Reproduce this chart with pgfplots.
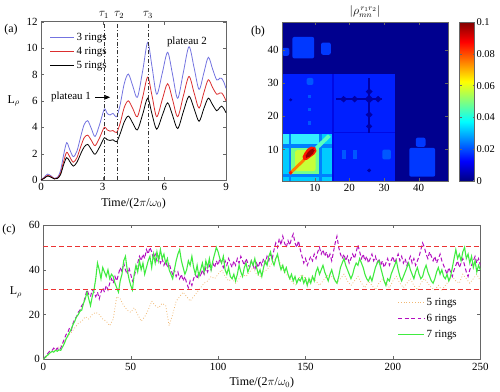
\documentclass[border=0pt]{standalone}
\usepackage{fontspec}
\setmainfont{Liberation Serif}
\usepackage{pgfplots}
\pgfplotsset{compat=1.18}
\usetikzlibrary{arrows.meta}

\definecolor{cA}{rgb}{0.45,0.45,0.88}
\definecolor{cB}{rgb}{0.86,0.18,0.18}
\definecolor{cOr}{rgb}{0.94,0.72,0.45}
\definecolor{cPu}{rgb}{0.70,0.05,0.75}
\definecolor{cGr}{rgb}{0.25,0.92,0.25}
\definecolor{cRl}{rgb}{0.92,0.2,0.2}
% heat map colours (jet)
\definecolor{hNavy}{rgb}{0,0,0.56}
\definecolor{hB0}{rgb}{0,0.04,0.9}
\definecolor{hB1}{rgb}{0,0.12,1}
\definecolor{hB2}{rgb}{0,0.22,1}
\definecolor{hB3}{rgb}{0,0.34,1}
\definecolor{hDk}{rgb}{0,0,0.65}
\definecolor{hSep}{rgb}{0,0.5,1}
\definecolor{hCy}{rgb}{0,0.8,1}
\definecolor{hCyL}{rgb}{0.2,0.93,1}
\definecolor{hGr}{rgb}{0.45,1,0.55}
\definecolor{hYe}{rgb}{0.78,1,0.22}
\definecolor{hOr}{rgb}{1,0.5,0}
\definecolor{hRd}{rgb}{1,0.1,0}
\definecolor{hDr}{rgb}{0.6,0,0}
\definecolor{hDc}{rgb}{0.35,1,0.75}

\newcommand{\tickfont}{\fontsize{11}{13}\selectfont}
\newcommand{\labfont}{\fontsize{12}{14}\selectfont}
\newcommand{\legfont}{\fontsize{11}{13}\selectfont}

\newcommand{\hrect}[5]{\addplot[draw=none,fill=#5,forget plot] coordinates {(#1,#3) (#2,#3) (#2,#4) (#1,#4)} --cycle;}
\newcommand{\hblob}[5]{\addplot[draw=none,fill=#5,rounded corners=2bp,forget plot] coordinates {(#1,#3) (#2,#3) (#2,#4) (#1,#4)} --cycle;}
\newcommand{\hdia}[4]{\addplot[draw=none,fill=#4,forget plot] coordinates {({#1-#3},#2) (#1,{#2+#3}) ({#1+#3},#2) (#1,{#2-#3})} --cycle;}

\pgfplotsset{
  mystyle/.style={
    scale only axis, anchor=south west,
    axis line style={black!60},
    tick style={black!60},
    major tick length=3bp,
    tick align=inside,
    tick label style={font=\tickfont},
    label style={font=\labfont},
    /pgf/number format/assume math mode=true,
  },
}

\begin{document}
\begin{tikzpicture}
\useasboundingbox (0,0) rectangle (500bp,392bp);

% ---------------- (a)
\begin{axis}[mystyle,
  at={(41bp,212bp)}, width=185bp, height=158.3bp,
  xmin=0, xmax=9, ymin=0, ymax=12,
  xtick={0,3,6,9}, ytick={0,2,...,12},
  clip=false,
  xlabel={Time/(2$\pi$/$\omega_0$)},
  ylabel={L$_\rho$}, ylabel style={rotate=-90},
  legend style={draw=none, fill=none, at={(0.03,0.955)}, anchor=north west, font=\legfont, row sep=1.5bp},
  legend cell align=left,
  legend image code/.code={\draw[#1] (0bp,0bp) -- (24bp,0bp);},
]
\addplot[cA, line width=0.8pt, smooth, tension=0.5] coordinates {
(0,0) (0.15,0.2) (0.32,0.45) (0.5,0.3) (0.65,0.12) (0.8,0.2) (0.95,0.7) (1.1,1.9) (1.25,2.83) (1.4,2.3) (1.57,1.77) (1.75,2.2) (1.95,3.4) (2.1,4.2) (2.27,4.5) (2.45,3.9) (2.63,3.3) (2.85,4.2) (3.08,5.38) (3.22,5.05) (3.36,4.93) (3.5,5.05) (3.68,4.8) (3.85,5.7) (4.05,7.3) (4.25,8.03) (4.47,7.1) (4.69,6.27) (4.95,8.3) (5.19,10.43) (5.4,8.6) (5.63,6.5) (5.9,8.1) (6.16,9.68) (6.4,8.0) (6.65,6.19) (6.93,8.2) (7.2,10.1) (7.45,8.5) (7.69,6.87) (7.92,8.1) (8.14,9.3) (8.35,8.4) (8.55,7.58) (8.7,7.72) (8.79,7.7) (8.9,7.4) (9,6.95)};
\addlegendentry{3 rings}
\addplot[cB, line width=0.8pt, smooth, tension=0.5] coordinates {
(0,0) (0.15,0.15) (0.32,0.35) (0.5,0.25) (0.65,0.1) (0.8,0.15) (0.95,0.5) (1.1,1.4) (1.25,2.1) (1.4,1.75) (1.57,1.35) (1.75,1.7) (1.95,2.6) (2.1,3.2) (2.27,3.4) (2.45,3.0) (2.63,2.6) (2.85,3.2) (3.08,4.0) (3.22,3.8) (3.36,3.7) (3.5,3.75) (3.68,3.6) (3.85,4.3) (4.05,5.5) (4.25,6.0) (4.47,5.4) (4.69,4.8) (4.95,6.3) (5.19,7.8) (5.4,6.4) (5.63,4.8) (5.9,6.1) (6.16,7.3) (6.4,6.1) (6.65,4.8) (6.93,6.4) (7.2,7.85) (7.45,6.6) (7.69,5.45) (7.92,6.6) (8.14,7.6) (8.35,7.0) (8.55,6.5) (8.7,6.6) (8.79,6.6) (8.9,6.35) (9,6.0)};
\addlegendentry{4 rings}
\addplot[black, line width=0.8pt, smooth, tension=0.5] coordinates {
(0,0) (0.15,0.12) (0.32,0.3) (0.5,0.2) (0.65,0.08) (0.8,0.12) (0.95,0.4) (1.1,1.15) (1.25,1.7) (1.4,1.4) (1.57,1.05) (1.75,1.35) (1.95,2.05) (2.1,2.5) (2.27,2.7) (2.45,2.3) (2.63,1.95) (2.85,2.5) (3.08,3.2) (3.22,3.05) (3.36,3.0) (3.5,3.05) (3.68,2.9) (3.85,3.5) (4.05,4.4) (4.25,4.85) (4.47,4.3) (4.69,3.8) (4.95,5.0) (5.19,6.2) (5.4,5.0) (5.63,3.85) (5.9,4.9) (6.16,5.85) (6.4,4.9) (6.65,3.9) (6.93,5.2) (7.2,6.35) (7.45,5.4) (7.69,4.45) (7.92,5.4) (8.14,6.2) (8.35,5.7) (8.55,5.25) (8.7,5.5) (8.79,5.6) (8.9,5.4) (9,5.1)};
\addlegendentry{5 rings}
\addplot[black!80, line width=0.7pt, dash pattern=on 4pt off 2pt on 1pt off 2pt, forget plot] coordinates {(3.06,0) (3.06,12)};
\addplot[black!80, line width=0.7pt, dash pattern=on 4pt off 2pt on 1pt off 2pt, forget plot] coordinates {(3.73,0) (3.73,12)};
\addplot[black!80, line width=0.7pt, dash pattern=on 4pt off 2pt on 1pt off 2pt, forget plot] coordinates {(5.2,0) (5.2,12)};
\addplot[black, line width=0.6pt, -{Stealth[length=6bp,width=5bp]}, forget plot] coordinates {(2.63,6.27) (3.36,6.27)};
\node[anchor=east, font=\legfont] at (axis cs:2.6,6.3) {plateau 1};
\node[font=\legfont] at (axis cs:7.1,10.48) {plateau 2};
\node[anchor=south, font=\labfont, inner sep=1bp] at (axis cs:3.06,12.15) {$\tau_1$};
\node[anchor=south, font=\labfont, inner sep=1bp] at (axis cs:3.8,12.15) {$\tau_2$};
\node[anchor=south, font=\labfont, inner sep=1bp] at (axis cs:5.2,12.15) {$\tau_3$};
\end{axis}

% ---------------- (b)
\begin{axis}[mystyle,
  at={(282bp,211bp)}, width=166bp, height=159bp,
  xmin=0.5, xmax=48.5, ymin=0.5, ymax=48.5,
  xtick={10,20,30,40}, ytick={10,20,30,40},
  axis on top,
  title={$|\rho^{\,r_1r_2}_{mn}|$}, title style={font=\labfont, yshift=-5bp},
  colormap/jet,
  point meta min=0, point meta max=0.1,
  colorbar,
  colorbar style={
    at={(parent axis.north east)}, anchor=north west, xshift=3bp,
    width=15bp, height=159bp, scale only axis,
    ytick={0,0.02,0.04,0.06,0.08,0.1},
    yticklabels={0,0.02,0.04,0.06,0.08,0.1},
    yticklabel style={font=\fontsize{10.5}{12}\selectfont, xshift=-1.5bp},
    /pgf/number format/assume math mode=true,
    axis line style={black!60}, tick style={black!60},
    major tick length=2bp,
  },
]
\hrect{0.5}{48.5}{0.5}{48.5}{hNavy}
\hrect{0.5}{33.3}{0.5}{32.8}{hB1}
\hblob{3.5}{9.8}{37.5}{44}{hB2}
\hblob{0.5}{2.6}{38.3}{40.7}{hB2}
\hblob{11.8}{14.6}{38.6}{42.3}{hB2}
\hblob{37.3}{44.8}{1.8}{10.5}{hB2}
\hblob{39.2}{42}{10.8}{13.6}{hB2}
\hblob{7.6}{9.6}{29.5}{31.6}{hB3}
\hrect{8}{9}{25.5}{26.5}{hB3}
\hrect{8}{9}{21.5}{22.5}{hB3}
\hrect{8}{9}{17.5}{18.5}{hB3}
\hrect{17.8}{19}{7}{10}{hB3}
\hrect{21}{22.2}{7}{10}{hB3}
\hblob{29.5}{32}{7}{10}{hB3}
\hrect{15}{15.5}{0.5}{32.8}{hB0}
\hrect{15}{33.3}{14.9}{15.4}{hB0}
\hrect{25.4}{26}{15}{31.5}{hDk}
\hrect{16}{29.5}{24.9}{25.5}{hDk}
\hdia{25.7}{27.5}{1.0}{hDk}
\hdia{25.7}{25.2}{1.3}{hDk}
\hdia{25.7}{20.5}{1.0}{hDk}
\hdia{25.7}{17}{0.9}{hDk}
\hdia{18.3}{25.2}{1.0}{hDk}
\hdia{21.5}{25.2}{1.0}{hDk}
\hdia{28.3}{25.2}{1.0}{hDk}
\hdia{3}{25}{0.5}{hDk}
\hdia{25.7}{3.7}{0.6}{hDk}
% cyan block
\hrect{0.5}{15}{0.5}{14.8}{hSep}
\hrect{0.5}{2.4}{0.5}{1.8}{hCy}
\hrect{0.5}{2.4}{2.6}{10.6}{hCy}
\hrect{0.5}{2.4}{11.6}{14.8}{hCyL}
\hrect{3.2}{11.2}{11.6}{14.8}{hCyL}
\hrect{12}{15}{11.6}{14.8}{hCy}
\hrect{12}{15}{2.6}{10.6}{hCy}
\hrect{3.2}{11.2}{0.5}{1.8}{hCy}
\hrect{12}{15}{0.5}{1.8}{hCy}
\hrect{3.2}{11.2}{2.6}{10.6}{hGr}
\hblob{4.3}{10.2}{3.5}{9.8}{hYe}
\addplot[draw=none, fill=hOr, forget plot] coordinates {(2.5,3.1) (3.1,2.5) (7.3,6.7) (6.7,7.3)} --cycle;
\addplot[draw=none, fill=hDc, forget plot] coordinates {(10,10.8) (10.8,10) (14.6,13.8) (13.8,14.6)} --cycle;
\addplot[draw=none, fill=hRd, rounded corners=2bp, forget plot] coordinates {(6.3,7.2) (7.2,6.5) (10.3,8.9) (10.6,10.2) (9.6,11) (8.2,10.7) (6.6,8.4)} --cycle;
\addplot[draw=none, fill=hDr, rounded corners=2bp, forget plot] coordinates {(7.2,7.6) (8,7.4) (9.9,9.2) (9.9,10.2) (9.2,10.4) (7.5,8.7)} --cycle;
\hdia{3}{3}{0.6}{hRd}
\end{axis}

% ---------------- (c)
\begin{axis}[mystyle,
  at={(43.3bp,32.7bp)}, width=437bp, height=134.3bp,
  xmin=0, xmax=250, ymin=0, ymax=60,
  xtick={0,50,...,250}, ytick={0,20,40,60},
  xlabel={Time/(2$\pi$/$\omega_0$)},
  ylabel={L$_\rho$}, ylabel style={rotate=-90},
  legend style={draw=none, fill=none, at={(0.958,0.12)}, anchor=south east, font=\legfont, row sep=3.5bp},
  legend cell align=left,
  legend image code/.code={\draw[#1] (0bp,0bp) -- (26bp,0bp);},
]
\addplot[cOr, line width=0.8pt, dotted] table[row sep=\\, header=false, x expr=2*\coordindex, y index=0] {
0\\1\\3\\4\\5\\6\\8\\10\\12\\14\\
16\\17\\19\\18\\20\\21\\20\\18\\17\\15\\
18\\28\\27\\24\\22\\21\\23\\20\\17\\19\\
22\\26\\24\\23\\25\\24\\15\\20\\26\\28\\
30\\28\\26\\28\\30\\32\\34\\35\\37\\36\\
38\\40\\37\\35\\36\\34\\36\\38\\37\\39\\
41\\38\\37\\39\\40\\42\\44\\46\\42\\39\\
37\\35\\33\\36\\38\\36\\34\\37\\35\\33\\
35\\37\\38\\36\\34\\36\\38\\35\\33\\35\\
37\\34\\32\\35\\33\\31\\34\\36\\34\\32\\
35\\37\\34\\32\\34\\36\\33\\31\\34\\36\\
34\\32\\31\\33\\31\\33\\35\\37\\35\\34\\
38\\36\\34\\36\\38\\35\\
};
\addlegendentry{5 rings}
\addplot[cPu, line width=1pt, dash pattern=on 4pt off 2.5pt] table[row sep=\\, header=false, x expr=\coordindex, y index=0] {
0\\1\\2\\3\\4\\4\\5\\4\\5\\4\\
5\\7\\9\\11\\12\\14\\13\\16\\18\\19\\
21\\22\\24\\25\\28\\31\\29\\28\\31\\30\\
28\\30\\27\\30\\32\\30\\33\\31\\34\\36\\
34\\37\\35\\38\\41\\39\\43\\40\\38\\41\\
38\\35\\37\\40\\43\\46\\44\\47\\45\\49\\
47\\50\\48\\45\\47\\44\\46\\43\\45\\42\\
44\\41\\43\\40\\38\\40\\37\\39\\36\\38\\
35\\37\\34\\32\\35\\33\\36\\38\\36\\39\\
37\\40\\38\\41\\39\\42\\40\\43\\41\\44\\
42\\45\\43\\41\\44\\42\\45\\43\\41\\44\\
42\\45\\43\\46\\44\\42\\45\\43\\41\\44\\
42\\40\\43\\41\\44\\42\\45\\43\\46\\44\\
47\\45\\49\\52\\50\\54\\51\\55\\52\\50\\
53\\51\\54\\56\\52\\50\\53\\49\\46\\43\\
45\\42\\44\\46\\44\\47\\45\\48\\50\\47\\
49\\46\\48\\45\\47\\44\\48\\52\\55\\50\\
47\\45\\47\\44\\46\\43\\45\\47\\45\\48\\
51\\48\\45\\47\\44\\46\\43\\45\\47\\44\\
46\\43\\45\\42\\44\\41\\43\\45\\42\\44\\
46\\43\\45\\47\\44\\46\\43\\45\\42\\44\\
46\\43\\45\\42\\44\\46\\49\\52\\50\\47\\
45\\48\\46\\44\\46\\43\\45\\47\\44\\42\\
40\\38\\41\\39\\37\\40\\42\\44\\41\\43\\
45\\42\\39\\37\\40\\42\\44\\46\\43\\45\\
42\\
};
\addlegendentry{6 rings}
\addplot[cGr, line width=1.1pt] table[row sep=\\, header=false, x expr=\coordindex, y index=0] {
0\\0.8\\1.6\\2.2\\3\\3.5\\3.2\\4\\3.6\\4.2\\
4\\5.5\\7\\9\\10.5\\12\\13.5\\15.5\\17\\19\\
20\\21.5\\22\\25\\27\\30\\27\\24\\28\\31\\
36\\43\\40\\36\\41\\39\\37\\40\\36\\38\\
37\\34\\32\\30\\35\\38\\44\\46\\40\\36\\
33\\31\\38\\42\\39\\44\\40\\43\\38\\41\\
44\\46\\41\\47\\43\\48\\44\\49\\45\\47\\
43\\45\\40\\38\\36\\40\\44\\47\\49\\44\\
41\\38\\40\\44\\42\\46\\41\\38\\42\\37\\
40\\43\\39\\44\\41\\45\\40\\44\\47\\50\\
48\\45\\43\\46\\40\\38\\41\\37\\36\\38\\
35\\38\\42\\39\\37\\41\\43\\39\\41\\44\\
42\\45\\41\\38\\40\\37\\41\\44\\42\\46\\
48\\44\\42\\45\\47\\43\\40\\42\\39\\41\\
38\\36\\38\\35\\37\\34\\36\\35\\37\\34\\
36\\33\\36\\34\\37\\35\\39\\41\\38\\40\\
42\\39\\37\\35\\38\\40\\37\\35\\34\\37\\
41\\43\\45\\42\\40\\38\\36\\38\\41\\43\\
42\\45\\43\\41\\38\\36\\35\\37\\35\\38\\
41\\43\\44\\41\\38\\35\\33\\36\\35\\38\\
40\\42\\44\\40\\37\\35\\37\\39\\41\\43\\
40\\38\\36\\39\\41\\38\\36\\37\\40\\42\\
39\\37\\35\\34\\36\\39\\41\\38\\40\\37\\
36\\38\\35\\37\\41\\45\\49\\45\\47\\44\\
48\\50\\45\\47\\43\\46\\41\\44\\39\\42\\
40\\
};
\addlegendentry{7 rings}
\addplot[cRl, line width=0.8pt, dash pattern=on 5pt off 3pt, forget plot] coordinates {(0,50.5) (250,50.5)};
\addplot[cRl, line width=0.8pt, dash pattern=on 5pt off 3pt, forget plot] coordinates {(0,31.1) (250,31.1)};
\end{axis}

\node[font=\labfont] at (11bp,362bp) {(a)};
\node[font=\labfont] at (258bp,360bp) {(b)};
\node[font=\labfont] at (9bp,162bp) {(c)};
\end{tikzpicture}
\end{document}
